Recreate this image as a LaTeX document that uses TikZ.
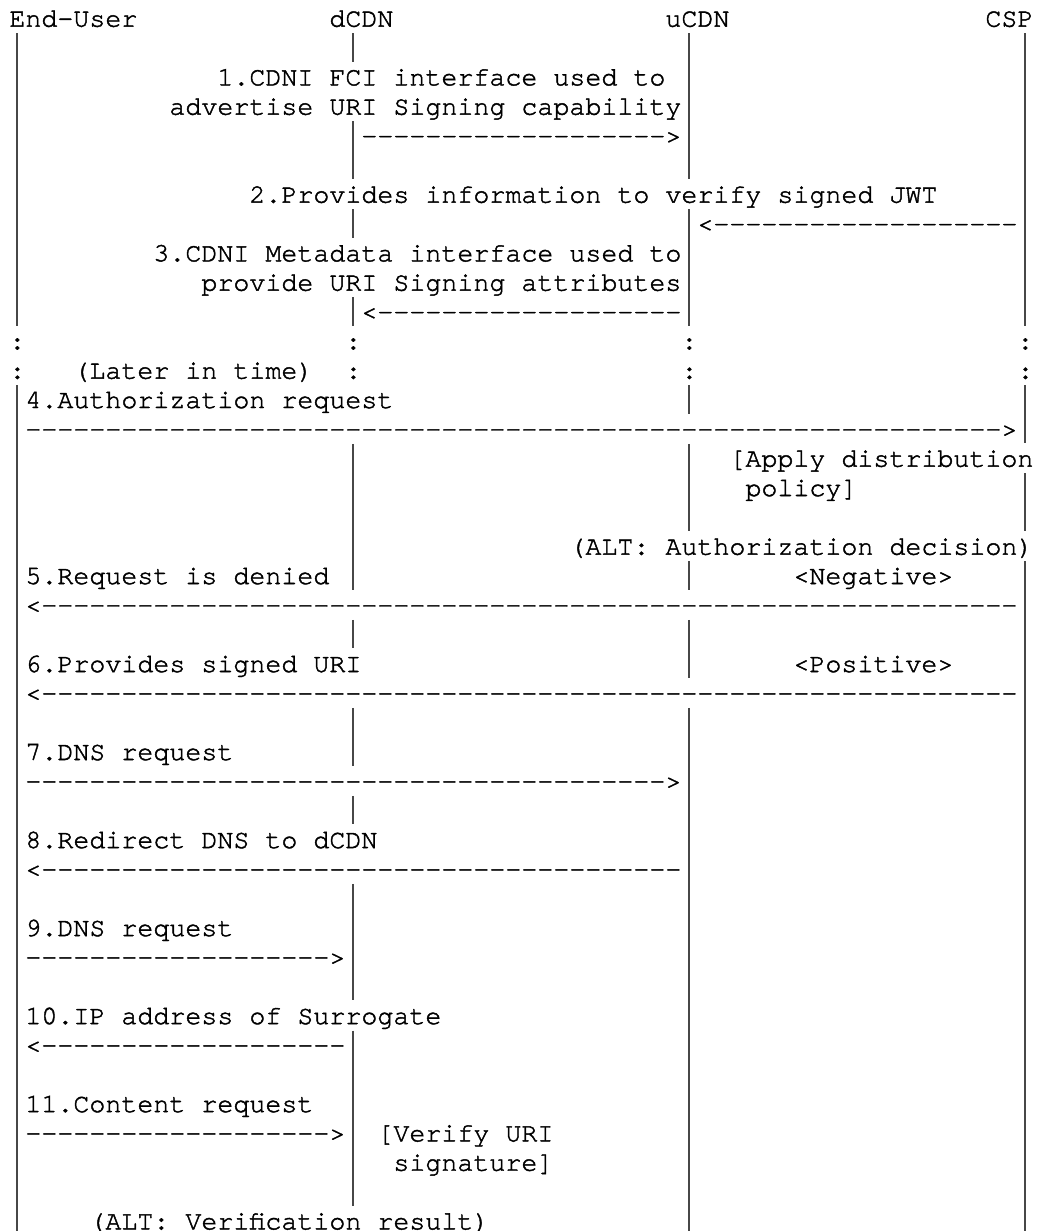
\documentclass[tikz,border=0pt]{standalone}
\usepackage{fontspec}
\setmonofont[FakeBold=1.6]{texgyrecursor-regular.otf}
\ExplSyntaxOn
\NewDocumentCommand\dashrun{m}{\prg_replicate:nn{#1}{-}}
\ExplSyntaxOff
% grid: column width 6pt, row pitch 11pt, left offset 3.52pt, first baseline 10pt
\def\colw{6}
\def\rowh{11}
\def\xoff{3.52}
\def\yoff{10}
\tikzset{
  asc/.style={anchor=base west, inner sep=0pt, outer sep=0pt,
    font=\ttfamily\fontsize{10pt}{11pt}\selectfont, text=black},
  lifeline/.style={draw=black!72, line width=0.72pt}
}
% \asc{name}{col}{row}{text}
\newcommand\asc[4]{\node[asc] (#1) at ({(\xoff+#2*\colw)*1pt},{-(\yoff+(#3-1)*\rowh)*1pt}) {#4};}
% \life{name}{col}{first row}{last row}
\newcommand\life[4]{%
  \coordinate (#1a) at ({(\xoff+(#2+0.5)*\colw)*1pt},{(-(\yoff+(#3-1)*\rowh)+8.53)*1pt});
  \coordinate (#1b) at ({(\xoff+(#2+0.5)*\colw)*1pt},{(-(\yoff+(#4-1)*\rowh)-2.12)*1pt});
  \draw[lifeline] (#1a) -- (#1b);}
\begin{document}
\begin{tikzpicture}
\useasboundingbox (0,0) rectangle (390.75pt,-461.6pt);
% headers
\asc{hEU}{0}{1}{End-User}
\asc{hD}{20}{1}{dCDN}
\asc{hU}{41}{1}{uCDN}
\asc{hC}{61}{1}{CSP}
% lifelines: End-User (col 0)
\life{e1}{0}{2}{11}
\life{e2}{0}{14}{42}
% dCDN (col 21)
\life{d1}{21}{2}{2}
\life{d2}{21}{5}{6}
\life{d3}{21}{8}{8}
\life{d4}{21}{11}{11}
\life{d5}{21}{16}{20}
\life{d6}{21}{22}{22}
\life{d7}{21}{25}{26}
\life{d8}{21}{28}{28}
\life{d9}{21}{31}{34}
\life{d10}{21}{36}{41}
% uCDN (col 42)
\life{u1}{42}{2}{6}
\life{u2}{42}{8}{11}
\life{u3}{42}{14}{14}
\life{u4}{42}{16}{18}
\life{u5}{42}{20}{20}
\life{u6}{42}{22}{23}
\life{u7}{42}{25}{42}
% CSP (col 63)
\life{c1}{63}{2}{11}
\life{c2}{63}{14}{15}
\life{c3}{63}{17}{18}
\life{c4}{63}{20}{42}
% colons (later in time)
\asc{k1}{0}{12}{:}
\asc{k2}{21}{12}{:}
\asc{k3}{42}{12}{:}
\asc{k4}{63}{12}{:}
\asc{k5}{0}{13}{:}
\asc{k6}{21}{13}{:}
\asc{k7}{42}{13}{:}
\asc{k8}{63}{13}{:}
\asc{later}{4}{13}{(Later in time)}
% step 1
\asc{t1a}{13}{3}{1.CDNI FCI interface used to}
\asc{t1b}{10}{4}{advertise URI Signing capability}
\asc{a1}{22}{5}{\dashrun{19}>}
% step 2
\asc{t2}{15}{7}{2.Provides information to verify signed JWT}
\asc{a2}{43}{8}{<\dashrun{19}}
% step 3
\asc{t3a}{9}{9}{3.CDNI Metadata interface used to}
\asc{t3b}{12}{10}{provide URI Signing attributes}
\asc{a3}{22}{11}{<\dashrun{19}}
% step 4
\asc{t4}{1}{14}{4.Authorization request}
\asc{a4}{1}{15}{\dashrun{61}>}
\asc{p1}{45}{16}{[Apply distribution}
\asc{p2}{46}{17}{policy]}
\asc{alt1}{35}{19}{(ALT: Authorization decision)}
% step 5
\asc{t5}{1}{20}{5.Request is denied}
\asc{neg}{49}{20}{<Negative>}
\asc{a5}{1}{21}{<\dashrun{61}}
% step 6
\asc{t6}{1}{23}{6.Provides signed URI}
\asc{pos}{49}{23}{<Positive>}
\asc{a6}{1}{24}{<\dashrun{61}}
% step 7
\asc{t7}{1}{26}{7.DNS request}
\asc{a7}{1}{27}{\dashrun{40}>}
% step 8
\asc{t8}{1}{29}{8.Redirect DNS to dCDN}
\asc{a8}{1}{30}{<\dashrun{40}}
% step 9
\asc{t9}{1}{32}{9.DNS request}
\asc{a9}{1}{33}{\dashrun{19}>}
% step 10
\asc{t10}{1}{35}{10.IP address of Surrogate}
\asc{a10}{1}{36}{<\dashrun{19}}
% step 11
\asc{t11}{1}{38}{11.Content request}
\asc{a11}{1}{39}{\dashrun{19}>}
\asc{v1}{23}{39}{[Verify URI}
\asc{v2}{24}{40}{signature]}
\asc{alt2}{5}{42}{(ALT: Verification result)}
\end{tikzpicture}
\end{document}
